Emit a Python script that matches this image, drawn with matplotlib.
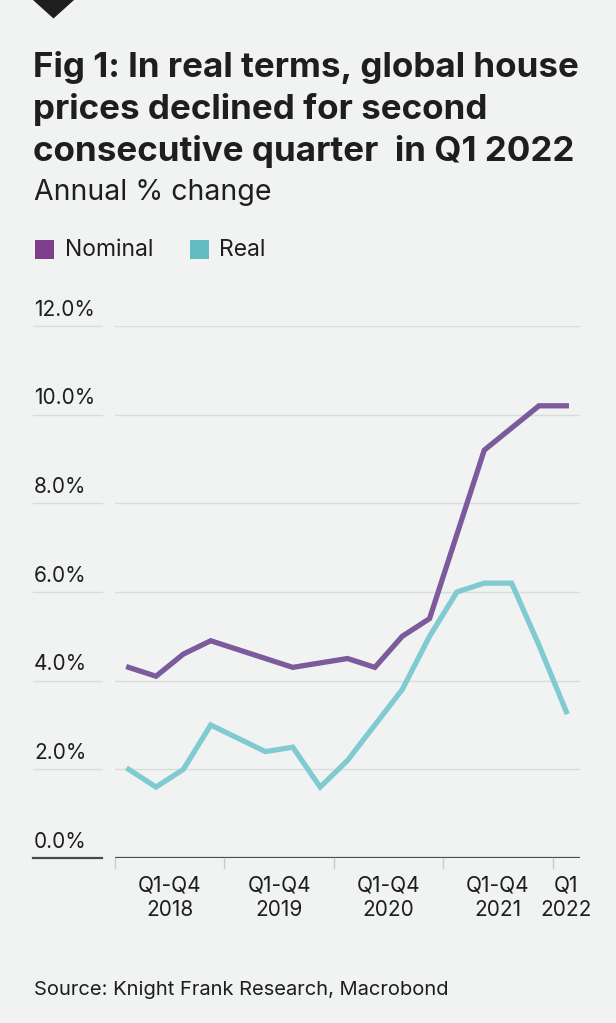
import matplotlib
matplotlib.use("Agg")
import matplotlib.pyplot as plt
import matplotlib.transforms as mtransforms
from matplotlib.patches import Polygon, Rectangle

plt.rcParams['font.family'] = ['Inter', 'DejaVu Sans']

# ---- data ----
quarters = list(range(17))  # Q1 2018 .. Q1 2022
nominal = [4.3, 4.1, 4.6, 4.9, 4.7, 4.5, 4.3, 4.4, 4.5, 4.3, 5.0, 5.4, 7.3, 9.2, 9.7, 10.2, 10.2]
real = [2.0, 1.6, 2.0, 3.0, 2.7, 2.4, 2.5, 1.6, 2.2, 3.0, 3.8, 5.0, 6.0, 6.2, 6.2, 4.8, 3.3]
y_ticks = [0, 2, 4, 6, 8, 10, 12]
y_tick_labels = ["0.0%", "2.0%", "4.0%", "6.0%", "8.0%", "10.0%", "12.0%"]
group_bounds = [-0.5, 3.5, 7.5, 11.5, 15.5, 16.5]
group_labels = ["Q1-Q4\n2018", "Q1-Q4\n2019", "Q1-Q4\n2020", "Q1-Q4\n2021", "Q1\n2022"]
series_names = ["Nominal", "Real"]

BG = "#f0f3f2"
PURPLE = "#7c5a9c"
TEAL = "#80cbd1"
PURPLE_SQ = "#7d3f8a"
TEAL_SQ = "#62bdc1"
TXT = "#1e1e1e"
GRID = "#d9dcdb"

W, H = 616, 1023
fig = plt.figure(figsize=(W / 100, H / 100), dpi=100, facecolor=BG)

def fx(px):
    return px / W

def fy(py):
    return 1 - py / H

# decorative triangle at top
fig.patches.append(Polygon([[fx(33), fy(0)], [fx(74), fy(0)], [fx(53.5), fy(18.5)]],
                           closed=True, transform=fig.transFigure, facecolor="#1e1e1e",
                           edgecolor="none"))

# titles
title_lines = ["Fig 1: In real terms, global house",
               "prices declined for second",
               "consecutive quarter  in Q1 2022"]
for i, t in enumerate(title_lines):
    fig.text(fx(33), fy(68 + i * 41.5), t, fontsize=25.2, fontweight="bold", color=TXT,
             ha="left", va="center")
fig.text(fx(34), fy(192), "Annual % change", fontsize=20.5, color=TXT, ha="left", va="center")

# legend
leg_items = [(35, series_names[0], PURPLE_SQ, 65), (190, series_names[1], TEAL_SQ, 219)]
for sx, name, col, tx in leg_items:
    fig.patches.append(Rectangle((fx(sx), fy(259)), fx(19), 19 / H, transform=fig.transFigure,
                                 facecolor=col, edgecolor="none"))
    fig.text(fx(tx), fy(250), name, fontsize=16.5, color=TXT, ha="left", va="center")

# source
fig.text(fx(34), fy(990), "Source: Knight Frank Research, Macrobond", fontsize=14.5,
         color=TXT, ha="left", va="center")

# axes
ax_left, ax_right, ax_top, ax_bottom = 115, 580, 326, 858
ax = fig.add_axes([fx(ax_left), fy(ax_bottom), (ax_right - ax_left) / W, (ax_bottom - ax_top) / H])
ax.set_facecolor(BG)
ax.set_xlim(-0.5, 16.5)
ax.set_ylim(0, 12)
for s in ax.spines.values():
    s.set_visible(False)
ax.set_xticks([])
ax.set_yticks([])

trans = mtransforms.blended_transform_factory(ax.transAxes, ax.transData)
x_lab0 = (34 - ax_left) / (ax_right - ax_left)
x_ul0 = (33 - ax_left) / (ax_right - ax_left)
x_ul1 = (102 - ax_left) / (ax_right - ax_left)
for v, lab in zip(y_ticks, y_tick_labels):
    col = "#4a4a4a" if v == 0 else GRID
    lw = 1.6 if v == 0 else 1.0
    ax.axhline(v, color=col, lw=lw, zorder=1)
    ax.plot([x_ul0, x_ul1], [v, v], transform=trans, color=col, lw=lw, clip_on=False)
    ax.annotate(lab, xy=(x_lab0, v), xycoords=trans, xytext=(0, 4.5), textcoords="offset points",
                ha="left", va="bottom", fontsize=15, color=TXT, annotation_clip=False)

# x group ticks and labels
transx = mtransforms.blended_transform_factory(ax.transData, ax.transAxes)
for b in group_bounds[:-1]:
    ax.plot([b, b], [0, -0.018], transform=transx, color="#c9cccb", lw=1, clip_on=False)
for i, lab in enumerate(group_labels):
    c = (group_bounds[i] + group_bounds[i + 1]) / 2
    ax.text(c, -0.033, lab, transform=transx, ha="center", va="top", fontsize=15, color=TXT,
            linespacing=1.3)

ax.plot(quarters, nominal, color=PURPLE, lw=3.8, solid_joinstyle="miter", clip_on=False, zorder=3)
ax.plot(quarters, real, color=TEAL, lw=3.8, solid_joinstyle="miter", clip_on=False, zorder=3)

fig.savefig("out.png", dpi=100, facecolor=BG)
